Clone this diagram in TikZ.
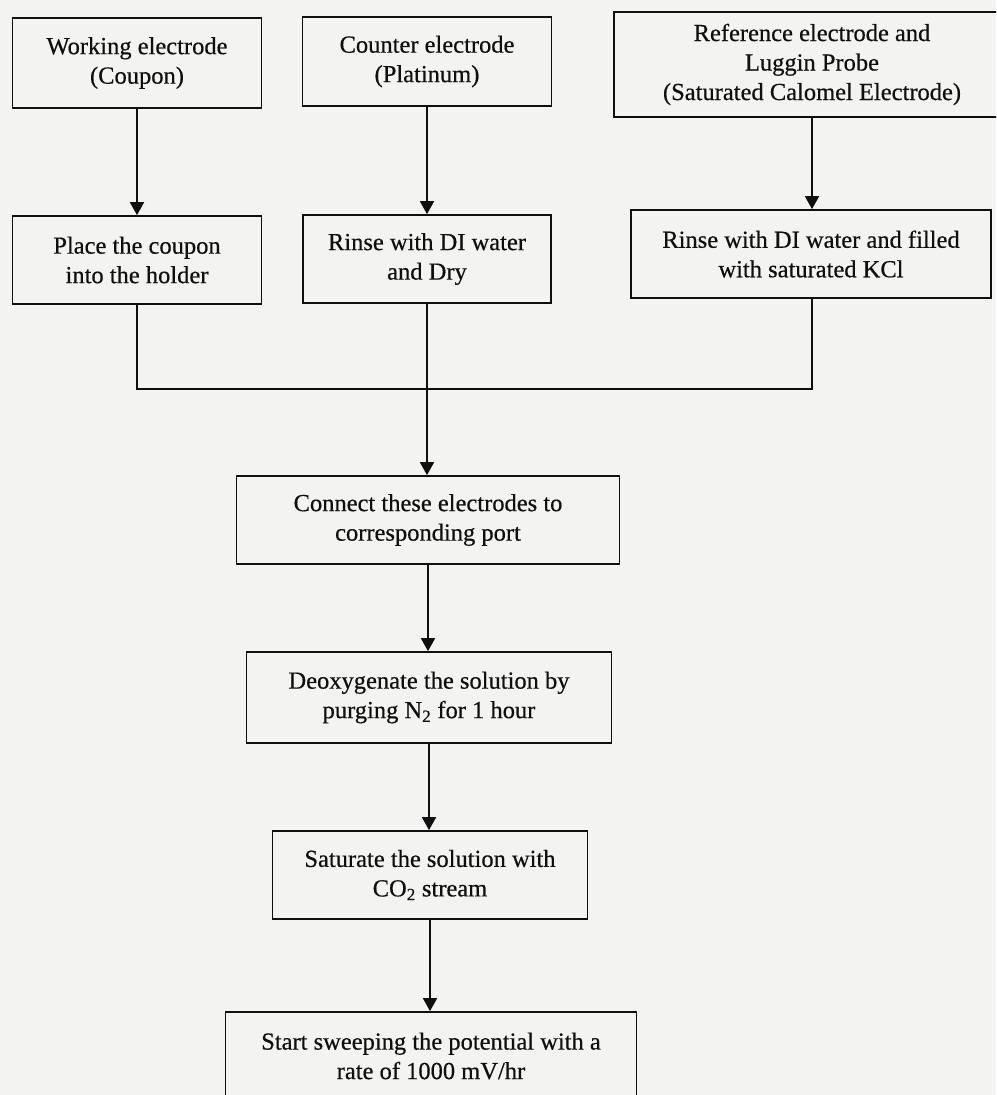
\documentclass[tikz,border=0pt]{standalone}
\usepackage{fontspec}
\setmainfont{Liberation Serif}[FakeBold=0.5]
\usetikzlibrary{arrows.meta}
\definecolor{paperColor}{RGB}{243,243,241}
\definecolor{inkColor}{RGB}{15,15,15}
\tikzstyle{flowSheet} = [x = 1pt, y = -1pt]
\tikzstyle{stepBox} = [draw=inkColor, line width=1.7pt, rectangle, align=center, inner sep=0pt,
  font=\fontsize{24.5}{29.5}\selectfont, text=inkColor]
\tikzstyle{flowLine} = [draw=inkColor, line width=1.7pt]
\tikzstyle{flowArrow} = [flowLine, -{Triangle[length=13pt, width=14pt]}]
\begin{document}
\begin{tikzpicture}[flowSheet]
        \useasboundingbox (0,0) rectangle (996,1095);
        \fill [paperColor] (0,0) rectangle (996,1095);
        \clip (0,0) rectangle (996,1095);

        % first row: the three electrodes
        \node [stepBox, minimum width=249pt, minimum height=90pt] (work) at (137,63) {Working electrode\\(Coupon)};
        \node [stepBox, minimum width=249pt, minimum height=89pt] (counter) at (427,61.5) {Counter electrode\\(Platinum)};
        \node [stepBox, minimum width=396pt, minimum height=105pt] (reference) at (812,64.5) {Reference electrode and\\Luggin Probe\\(Saturated Calomel Electrode)};

        % second row: cleaning
        \node [stepBox, minimum width=249pt, minimum height=88pt] (place) at (137,260) {Place the coupon\\into the holder};
        \node [stepBox, minimum width=248pt, minimum height=88pt] (rinse) at (427,259) {Rinse with DI water\\and Dry};
        \node [stepBox, minimum width=360pt, minimum height=88pt] (fill) at (811,254) {Rinse with DI water and filled\\with saturated KCl};

        % the cell
        \node [stepBox, minimum width=383pt, minimum height=88pt] (connect) at (428,520) {Connect these electrodes to\\corresponding port};
        \node [stepBox, minimum width=365pt, minimum height=91pt] (purge) at (429,697.5) {Deoxygenate the solution by\\purging N\textsubscript{2} for 1 hour};
        \node [stepBox, minimum width=315pt, minimum height=88pt] (saturate) at (430,875) {Saturate the solution with\\CO\textsubscript{2} stream};
        \node [stepBox, minimum width=411pt, minimum height=88pt] (sweep) at (431,1056) {Start sweeping the potential with a\\rate of 1000 mV/hr};

        \coordinate (join) at (427,389);

        \draw [flowArrow] (work.south) -- (work.south |- place.north);
        \draw [flowArrow] (counter.south) -- (counter.south |- rinse.north);
        \draw [flowArrow] (reference.south) -- (reference.south |- fill.north);

        \draw [flowLine] (place.south) |- (join);
        \draw [flowLine] (fill.south -| reference.south) |- (join);
        \draw [flowArrow] (rinse.south) -- (rinse.south |- connect.north);

        \draw [flowArrow] (connect.south) -- (connect.south |- purge.north);
        \draw [flowArrow] (purge.south) -- (purge.south |- saturate.north);
        \draw [flowArrow] (saturate.south) -- (saturate.south |- sweep.north);
      \end{tikzpicture}
\end{document}
